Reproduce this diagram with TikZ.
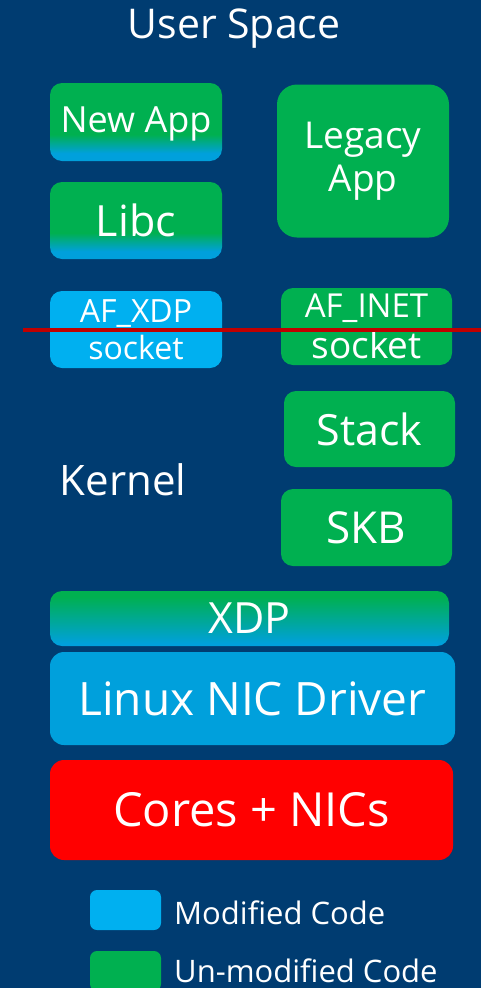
\documentclass[tikz,border=0pt]{standalone}
\usepackage{fontspec}
\setmainfont{Open Sans}
\definecolor{bg}{HTML}{003C71}
\definecolor{grn}{HTML}{00B050}
\definecolor{lblu}{HTML}{00B0F0}
\definecolor{dblu}{HTML}{00A0DC}
\definecolor{redline}{HTML}{C00000}
\definecolor{redbox}{HTML}{FF0000}
\pgfdeclareverticalshading{gbfade}{100bp}{color(0bp)=(dblu); color(30bp)=(dblu); color(42bp)=(grn); color(100bp)=(grn)}
\pgfdeclareverticalshading{xdpfade}{100bp}{color(0bp)=(dblu); color(27bp)=(dblu); color(70bp)=(grn); color(100bp)=(grn)}
\tikzset{
  box/.style={rectangle, rounded corners=12pt, text=white, inner sep=0pt, align=center},
  greenbox/.style={box, fill=grn},
  bluebox/.style={box, fill=lblu},
  fadebox/.style={box, shading=gbfade},
  lbl/.style={text=white, inner sep=0pt, anchor=base}
}
\begin{document}
\begin{tikzpicture}[x=1pt,y=-1pt]
\useasboundingbox (0,0) rectangle (481,988);
\fill[bg] (0,0) rectangle (481,988);
\node[lbl, font=\fontsize{41}{46}\selectfont] (us) at (234,38) {User Space};
\node[fadebox, minimum width=172pt, minimum height=78pt, text depth=5pt, font=\fontsize{36}{40}\selectfont] (newapp) at (136,122) {New App};
\node[fadebox, minimum width=172pt, minimum height=77pt, font=\fontsize{43}{48}\selectfont] (libc) at (136,220.5) {Libc};
\node[greenbox, rounded corners=20pt, minimum width=172pt, minimum height=153pt, font=\fontsize{37}{43}\selectfont] (legacy) at (363,161) {Legacy\\App};
\node[bluebox, minimum width=172pt, minimum height=77pt, font=\fontsize{32}{37}\selectfont] (afxdp) at (136,329.5) {AF\_XDP\\socket};
\node[greenbox, minimum width=171pt, minimum height=77pt, font=\fontsize{33}{41}\selectfont] (afinet) at (366.5,326.5) {AF\_INET\\\fontsize{37}{41}\selectfont socket};
\coordinate (rl) at (23,330);
\coordinate (rr) at (481,330);
\draw[redline, line width=4.5pt] (rl) -- (rr);
\node[greenbox, minimum width=171pt, minimum height=76pt, font=\fontsize{43}{48}\selectfont] (stack) at (369.5,429) {Stack};
\node[lbl, font=\fontsize{42}{48}\selectfont] (kernel) at (123,495) {Kernel};
\node[greenbox, minimum width=171pt, minimum height=77pt, font=\fontsize{44}{48}\selectfont] (skb) at (366.5,527.5) {SKB};
\node[box, shading=xdpfade, minimum width=399pt, minimum height=55pt, font=\fontsize{43}{48}\selectfont] (xdp) at (249.5,618.5) {XDP};
\node[box, fill=dblu, rounded corners=14pt, minimum width=405pt, minimum height=93pt, font=\fontsize{46}{52}\selectfont] (drv) at (252.5,698.5) {Linux NIC Driver};
\node[box, fill=redbox, rounded corners=14pt, minimum width=403pt, minimum height=100pt, font=\fontsize{47}{54}\selectfont] (cores) at (251.5,810) {Cores + NICs};
\node[bluebox, rounded corners=7pt, minimum width=71pt, minimum height=40pt] (legm) at (125.5,910) {};
\node[lbl, anchor=base west, font=\fontsize{31}{36}\selectfont] (legmt) at (174,924) {Modified Code};
\node[greenbox, rounded corners=7pt, minimum width=71pt, minimum height=40pt] (legu) at (125.5,971) {};
\node[lbl, anchor=base west, font=\fontsize{31}{36}\selectfont] (legut) at (174,982) {Un-modified Code};
\end{tikzpicture}
\end{document}
